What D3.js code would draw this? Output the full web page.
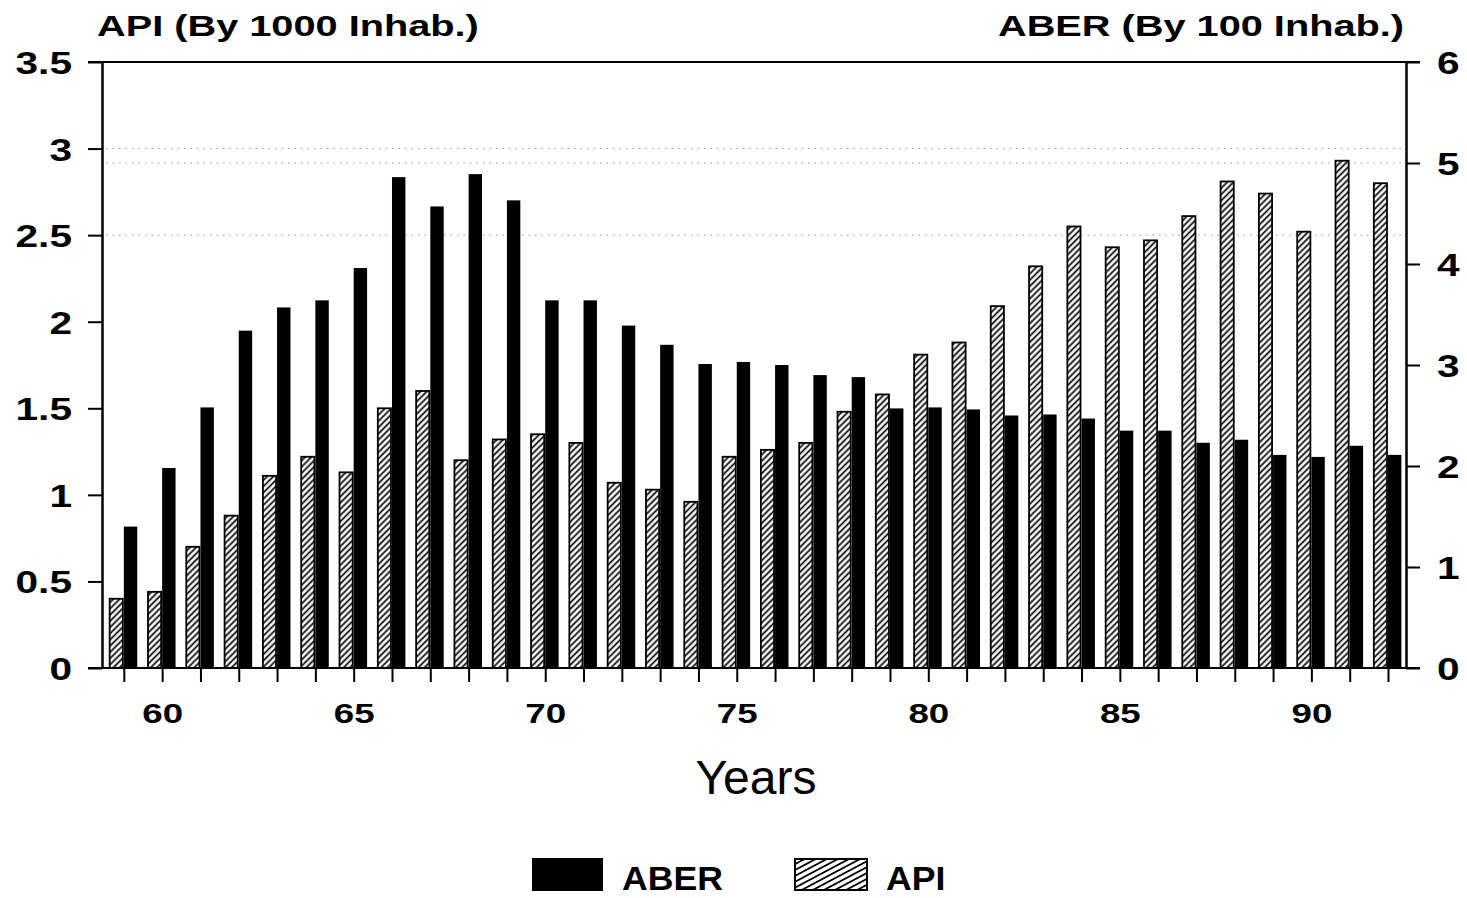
<!DOCTYPE html>
<html>
<head>
<meta charset="utf-8">
<script src="https://cdn.jsdelivr.net/npm/d3@7"></script>
<style>
  html, body { margin: 0; padding: 0; background: #fff; }
  svg { display: block; }
  text { font-family: "Liberation Sans", Arial, Helvetica, sans-serif; fill: #000; }
</style>
</head>
<body>
<svg id="chart" width="1467" height="898"></svg>
<script>
// ---- Data ----
const years = [59,60,61,62,63,64,65,66,67,68,69,70,71,72,73,74,75,76,77,78,79,80,81,82,83,84,85,86,87,88,89,90,91,92];
const apiValues = [0.40,0.44,0.70,0.88,1.11,1.22,1.13,1.50,1.60,1.20,
                   1.32,1.35,1.30,1.07,1.03,0.96,1.22,1.26,1.30,1.48,
                   1.58,1.81,1.88,2.09,2.32,2.55,2.43,2.47,2.61,2.81,
                   2.74,2.52,2.93,2.80];
const aberValues = [1.40,1.98,2.58,3.34,3.57,3.64,3.96,4.86,4.57,4.89,
                    4.63,3.64,3.64,3.39,3.20,3.01,3.03,3.00,2.90,2.88,
                    2.57,2.58,2.56,2.50,2.51,2.47,2.35,2.35,2.23,2.26,
                    2.11,2.09,2.20,2.11];
const leftTicks = [0,0.5,1,1.5,2,2.5,3,3.5];
const rightTicks = [0,1,2,3,4,5,6];
const yearLabels = [60,65,70,75,80,85,90];
const leftTitle = "API (By 1000 Inhab.)";
const rightTitle = "ABER (By 100 Inhab.)";
const xTitle = "Years";
const seriesNames = ["ABER", "API"];

// ---- Layout ----
const plot = { left: 102, right: 1406, top: 62, bottom: 668 };
const tickLen = 14;
const SX = 1.42; // expanded typeface look

const svg = d3.select("#chart");

const x = d3.scaleLinear().domain([58.43, 92.47]).range([plot.left, plot.right]);
const yL = d3.scaleLinear().domain([0, 3.5]).range([plot.bottom, plot.top]);
const yR = d3.scaleLinear().domain([0, 6]).range([plot.bottom, plot.top]);
const step = x(1) - x(0);

// ---- Patterns ----
const defs = svg.append("defs");
function hatch(id, size, angle, sw) {
  const p = defs.append("pattern").attr("id", id)
    .attr("patternUnits", "userSpaceOnUse")
    .attr("width", size).attr("height", size)
    .attr("patternTransform", `rotate(${angle})`);
  p.append("rect").attr("width", size).attr("height", size).attr("fill", "#fff");
  p.append("line").attr("x1", size/2).attr("x2", size/2).attr("y1", 0).attr("y2", size)
    .attr("stroke", "#000").attr("stroke-width", sw);
}
hatch("hatchBar", 4.4, 45, 1.7);
hatch("hatchLegend", 5.2, 62, 1.8);

// ---- Faint dotted grid remnants ----
const grid = svg.append("g");
[[yL, 3], [yR, 5], [yL, 2.5]].forEach(([s, v]) => {
  grid.append("line")
    .attr("x1", plot.left + 4).attr("x2", plot.right - 4)
    .attr("y1", s(v)).attr("y2", s(v))
    .attr("stroke", "#9a9a9a").attr("stroke-width", 1)
    .attr("stroke-dasharray", "1.5,5");
});

// ---- Bars ----
const rows = years.map((yr, i) => ({ yr, api: apiValues[i], aber: aberValues[i] }));
const hw = step * 0.37, bw = step * 0.35;

svg.append("g").selectAll("rect").data(rows).join("rect")
  .attr("x", d => x(d.yr) - hw)
  .attr("y", d => yL(d.api))
  .attr("width", hw - 1)
  .attr("height", d => yL(0) - yL(d.api))
  .attr("fill", "url(#hatchBar)")
  .attr("stroke", "#000").attr("stroke-width", 1.8);

svg.append("g").selectAll("rect").data(rows).join("rect")
  .attr("x", d => x(d.yr))
  .attr("y", d => yR(d.aber))
  .attr("width", bw)
  .attr("height", d => yR(0) - yR(d.aber))
  .attr("fill", "#000");

// ---- Axes ----
function styleAxis(g) {
  g.selectAll("path.domain").attr("stroke", "#000").attr("stroke-width", 2.5);
  g.selectAll(".tick line").attr("stroke", "#000").attr("stroke-width", 2);
}
const numFont = "'Liberation Sans', Arial, sans-serif";

const gL = svg.append("g").attr("transform", `translate(${plot.left},0)`)
  .call(d3.axisLeft(yL).tickValues(leftTicks).tickSize(tickLen).tickSizeOuter(0)
    .tickFormat(d => d === 0 ? "0" : d3.format("~g")(d)));
styleAxis(gL);
gL.selectAll(".tick text")
  .attr("x", null).attr("dy", "0.36em")
  .attr("transform", `translate(-30,0) scale(1.27,1)`)
  .attr("text-anchor", "end")
  .style("font-size", "32px").style("font-weight", "bold")
  .style("font-family", numFont);

const gR = svg.append("g").attr("transform", `translate(${plot.right},0)`)
  .call(d3.axisRight(yR).tickValues(rightTicks).tickSize(tickLen).tickSizeOuter(0)
    .tickFormat(d3.format("d")));
styleAxis(gR);
gR.selectAll(".tick text")
  .attr("x", null).attr("dy", "0.36em")
  .attr("transform", `translate(31,0) scale(1.27,1)`)
  .attr("text-anchor", "start")
  .style("font-size", "32px").style("font-weight", "bold")
  .style("font-family", numFont);

const gB = svg.append("g").attr("transform", `translate(0,${plot.bottom})`)
  .call(d3.axisBottom(x).tickValues(years).tickSize(tickLen).tickSizeOuter(0)
    .tickFormat(d => yearLabels.includes(d) ? String(d) : ""));
gB.select("path.domain").remove();
styleAxis(gB);
gB.selectAll(".tick text")
  .attr("y", null).attr("dy", null)
  .attr("transform", `translate(0,55) scale(1.36,1)`)
  .attr("text-anchor", "middle")
  .style("font-size", "27px").style("font-weight", "bold")
  .style("font-family", numFont);

// frame lines (top and baseline spanning outer ticks)
svg.append("line").attr("x1", plot.left - tickLen).attr("x2", plot.right + tickLen)
  .attr("y1", yL(3.5)).attr("y2", yL(3.5)).attr("stroke", "#000").attr("stroke-width", 2.2);
svg.append("line").attr("x1", plot.left - tickLen).attr("x2", plot.right + tickLen)
  .attr("y1", yL(0)).attr("y2", yL(0)).attr("stroke", "#000").attr("stroke-width", 2.2);

// ---- Titles ----
function wide(txt, tx, ty, size, anchor, sx, weight) {
  return svg.append("text").text(txt)
    .attr("transform", `translate(${tx},${ty}) scale(${sx},1)`)
    .attr("text-anchor", anchor)
    .style("font-size", size + "px").style("font-weight", weight || "bold");
}
wide(leftTitle, 97, 36, 29, "start", 1.37);
wide(rightTitle, 1404, 36, 29, "end", 1.37);

svg.append("text").text(xTitle)
  .attr("x", (plot.left + plot.right) / 2 + 2).attr("y", 794)
  .attr("text-anchor", "middle")
  .style("font-size", "48px");

// ---- Legend ----
const lg = svg.append("g");
lg.append("rect").attr("x", 532).attr("y", 858).attr("width", 71).attr("height", 33).attr("fill", "#000");
wide(seriesNames[0], 622, 890, 33, "start", 1.08);
lg.append("rect").attr("x", 795).attr("y", 859).attr("width", 72).attr("height", 31)
  .attr("fill", "url(#hatchLegend)").attr("stroke", "#000").attr("stroke-width", 2);
wide(seriesNames[1], 886, 890, 33, "start", 1.08);
</script>
</body>
</html>
